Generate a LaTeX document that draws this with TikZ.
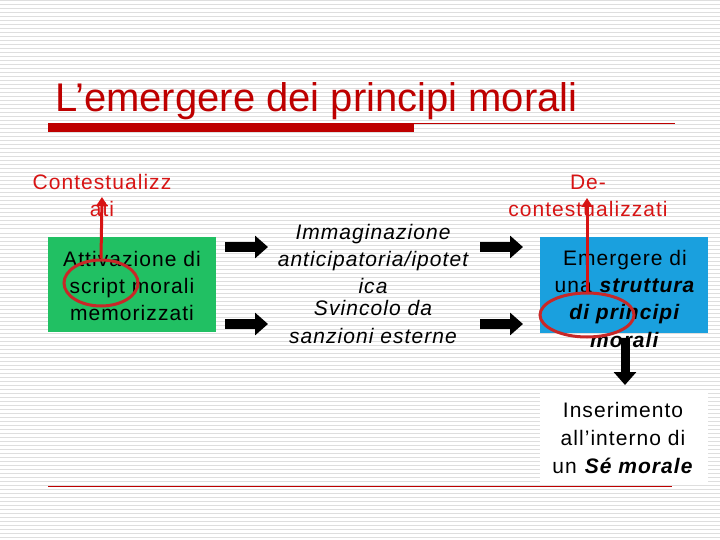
\documentclass[tikz,border=0pt]{standalone}
\usepackage{fontspec}
\setmainfont{Liberation Sans}
\newfontfamily\spaced[LetterSpace=5]{Liberation Sans}
\usetikzlibrary{arrows.meta,shapes.geometric}
\definecolor{titlered}{RGB}{190,0,0}
\definecolor{labelred}{RGB}{215,20,20}
\definecolor{ringred}{RGB}{200,40,40}
\definecolor{boxgreen}{RGB}{33,192,99}
\definecolor{boxblue}{RGB}{26,160,222}
\definecolor{stripe}{RGB}{222,222,222}
\begin{document}
\begin{tikzpicture}[x=1pt,y=-1pt,
  body/.style={font=\spaced\fontsize{21}{27}\selectfont,align=center,anchor=base,inner sep=0pt},
  panel/.style={anchor=north west,minimum width=168pt,inner sep=0pt},
  ring/.style={draw=ringred,line width=3pt,ellipse,inner sep=0pt},
  redarrow/.style={labelred,line width=3pt,-{Triangle[width=11pt,length=9pt]}},
  blockarrow/.style={line width=10pt,-{Triangle[width=22pt,length=13pt]}}]
\useasboundingbox (0,0) rectangle (720,540);
\fill[white] (0,0) rectangle (720,540);
\foreach \i in {0,...,134}
  \draw[stripe,line width=1pt] (0,4*\i+1) -- (720,4*\i+1);
\node[anchor=base west,inner sep=0pt,text=titlered,font=\fontsize{40}{48}\selectfont] (title) at (55,112) {L’emergere dei principi morali};
\fill[titlered] (48,123.5) rectangle (414,132);
\draw[titlered,line width=1pt] (414,123.5) -- (675,123.5);
\draw[titlered,line width=1pt] (48,486) -- (672,486);
\node[body,text=labelred] (ctx) at (102,216) {Contestualizz\\ati};
\node[body,text=labelred] (dectx) at (588,217) {De-\\contestualizzati};
\node[panel,fill=boxgreen,minimum height=95pt] (green) at (48,237) {};
\node[body] (attiv) at (132,320) {Attivazione di\\script morali\\memorizzati};
\node[body,font=\spaced\itshape\fontsize{21}{27}\selectfont] (immag) at (373,293) {Immaginazione\\anticipatoria/ipotet\\ica};
\node[body,font=\spaced\itshape\fontsize{21}{28}\selectfont] (svinc) at (373,343) {Svincolo da\\sanzioni esterne};
\node[panel,fill=boxblue,minimum height=96pt] (blue) at (540,237) {};
\node[body,font=\spaced\fontsize{21}{27.3}\selectfont] (emerg) at (625,347) {Emergere di\\una \textbf{\textit{struttura}}\\\textbf{\textit{di principi}}\\\textbf{\textit{morali}}};
\node[panel,fill=white,minimum height=91pt] (white) at (540,392) {};
\node[body,font=\spaced\fontsize{21}{28}\selectfont] (inser) at (623,473) {Inserimento\\all’interno di\\un \textbf{\textit{Sé morale}}};
\coordinate (a1s) at (225,247);
\coordinate (a1e) at (268,247);
\coordinate (a2s) at (225,324);
\coordinate (a2e) at (268,324);
\coordinate (a3s) at (480,247);
\coordinate (a3e) at (523,247);
\coordinate (a4s) at (480,324);
\coordinate (a4e) at (523,324);
\coordinate (a5s) at (625,338);
\coordinate (a5e) at (625,385);
\draw[blockarrow] (a1s) -- (a1e);
\draw[blockarrow] (a2s) -- (a2e);
\draw[blockarrow] (a3s) -- (a3e);
\draw[blockarrow] (a4s) -- (a4e);
\draw[blockarrow,line width=9pt] (a5s) -- (a5e);
\node[ring,minimum width=74pt,minimum height=46pt] (ring1) at (101,283) {};
\node[ring,minimum width=94pt,minimum height=44pt] (ring2) at (587,315) {};
\coordinate (tip1) at (102,197);
\coordinate (tip2) at (587,198);
\draw[redarrow] (ring1.north) -- (tip1);
\draw[redarrow] (ring2.north) -- (tip2);
\end{tikzpicture}
\end{document}
